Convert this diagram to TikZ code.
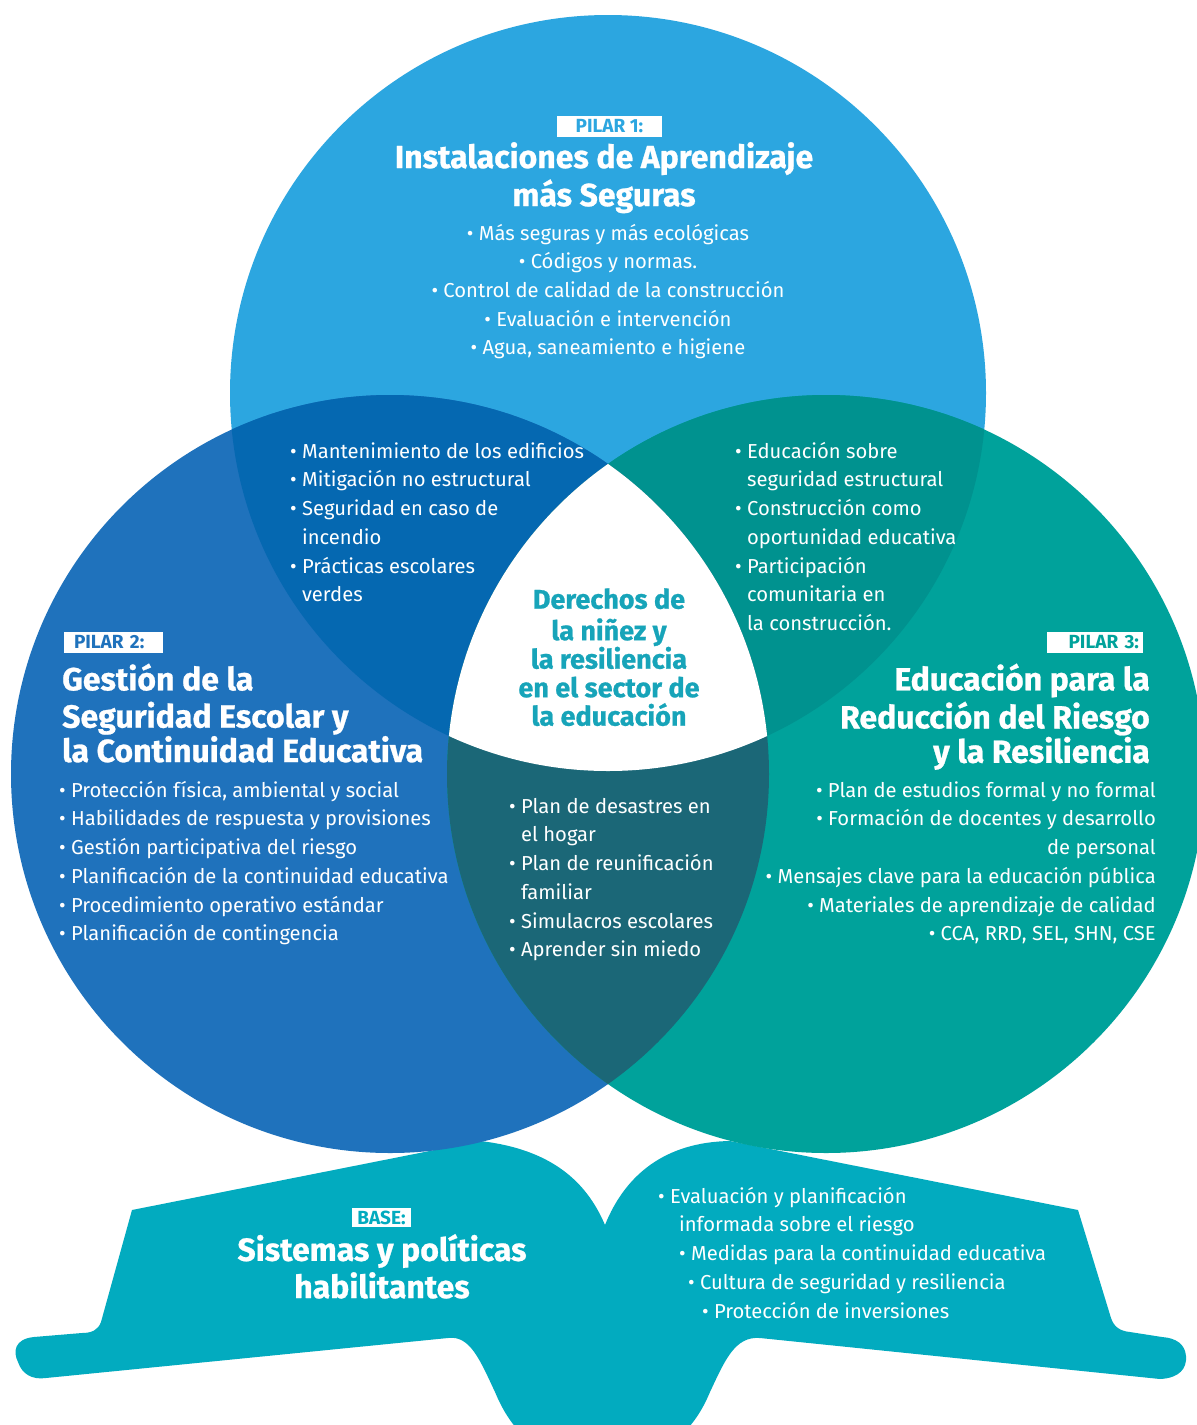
\documentclass[tikz,border=0pt]{standalone}
\usepackage{fontspec}
\setmainfont{Fira Sans}
\newfontfamily\heavyfam{Fira Sans}[BoldFeatures={FakeBold=0.8}]
\definecolor{ctop}{HTML}{2CA6E0}
\definecolor{cleft}{HTML}{1F72BC}
\definecolor{cright}{HTML}{00A29B}
\definecolor{ctl}{HTML}{0568B1}
\definecolor{ctr}{HTML}{00928F}
\definecolor{clr}{HTML}{1B6777}
\definecolor{cbase}{HTML}{02ABBF}
\definecolor{cmid}{HTML}{17A4B9}
\newcommand\bu{\textbullet\ }
\newcommand\hi{\phantom{\textbullet\ }}
\begin{document}
\begin{tikzpicture}[x=1pt,y=-1pt,
  body/.style={inner sep=0pt, text=white, font=\fontsize{20.2}{28.7}\selectfont},
  ttl/.style={inner sep=0pt, text=white, font=\fontsize{32}{34.4}\selectfont\heavyfam\bfseries},
  lab/.style={fill=white, inner ysep=0pt, minimum height=21pt, font=\fontsize{19}{19}\selectfont\bfseries},
  midtxt/.style={inner sep=0pt, text=cmid, font=\fontsize{27}{28.5}\selectfont\heavyfam\bfseries}
  ]
\useasboundingbox (0,0) rectangle (1197,1425);
\clip (0,0) rectangle (1197,1425);
\fill[white] (0,0) rectangle (1197,1425);
\def\pT{(608,393) circle[radius=378pt]}
\def\pL{(390,774) circle[radius=379pt]}
\def\pR{(826,774) circle[radius=379pt]}
% base (open book)
\fill[cbase] (605,1225) .. controls (590,1190) and (560,1150) .. (480,1141)
  -- (132,1210) -- (101,1322) .. controls (98,1330) and (92,1333) .. (82,1333)
  -- (34,1337) .. controls (14,1339) and (13,1352) .. (18,1362)
  .. controls (22,1374) and (32,1380) .. (46,1378)
  -- (448,1338) .. controls (470,1335) and (480,1360) .. (495,1392)
  .. controls (515,1440) and (545,1460) .. (601,1460)
  .. controls (657,1460) and (690,1440) .. (710,1392)
  .. controls (725,1360) and (735,1336) .. (760,1338)
  -- (1160,1379) .. controls (1180,1378) and (1187,1368) .. (1186,1356)
  .. controls (1185,1344) and (1176,1338) .. (1162,1337)
  -- (1130,1332) .. controls (1120,1331) and (1114,1327) .. (1111,1318)
  -- (1078,1210) -- (730,1141) .. controls (665,1142) and (625,1175) .. (605,1225) -- cycle;
% circles
\fill[ctop] \pT;
\fill[cleft] \pL;
\fill[cright] \pR;
\begin{scope}\clip \pT; \fill[ctl] \pL; \end{scope}
\begin{scope}\clip \pT; \fill[ctr] \pR; \end{scope}
\begin{scope}\clip \pL; \fill[clr] \pR; \end{scope}
\begin{scope}\clip \pT; \clip \pL; \fill[white] \pR; \end{scope}
% Pillar 1
\node[lab, text=ctop, minimum width=105pt] (p1lab) at (609.5,126.5) {PILAR 1:};
\node[ttl, anchor=north, align=center] (p1ttl) at (604,141.9)
  {\strut Instalaciones de Aprendizaje\\más Seguras};
\node[body, anchor=north, align=center] (p1list) at (608,219.9)
  {\strut\bu Más seguras y más ecológicas\\\bu Códigos y normas.\\\bu Control de calidad de la construcción\\\bu Evaluación e intervención\\\bu Agua, saneamiento e higiene};
% overlaps
\node[body, anchor=north west, align=left] (tllist) at (290,437.9)
  {\strut\bu Mantenimiento de los edificios\\\bu Mitigación no estructural\\\bu Seguridad en caso de\\\hi incendio\\\bu Prácticas escolares\\\hi verdes};
\node[body, anchor=north west, align=left] (trlist) at (735,437.9)
  {\strut\bu Educación sobre\\\hi seguridad estructural\\\bu Construcción como\\\hi oportunidad educativa\\\bu Participación\\\hi comunitaria en\\\hi la construcción.};
\node[body, anchor=north west, align=left] (lrlist) at (509,792.9)
  {\strut\bu Plan de desastres en\\\hi el hogar\\\bu Plan de reunificación\\\hi familiar\\\bu Simulacros escolares\\\bu Aprender sin miedo};
\node[midtxt, anchor=north, align=center] (mid) at (609,588)
  {\strut Derechos de\\la niñez y\\la resiliencia\\en el sector de\\la educación};
% Pillar 2
\node[lab, text=cleft, text width=79pt, inner xsep=10pt, align=left] (p2lab) at (113.5,642.5) {PILAR 2:};
\node[ttl, anchor=north west, align=left] (p2ttl) at (62,663.4)
  {\strut Gestión de la\\Seguridad Escolar y\\la Continuidad Educativa};
\node[body, anchor=north west, align=left] (p2list) at (59,776.9)
  {\strut\bu Protección física, ambiental y social\\\bu Habilidades de respuesta y provisiones\\\bu Gestión participativa del riesgo\\\bu Planificación de la continuidad educativa\\\bu Procedimiento operativo estándar\\\bu Planificación de contingencia};
% Pillar 3
\node[lab, text=cright, text width=88pt, inner xsep=4pt, align=right] (p3lab) at (1095,642.5) {PILAR 3:};
\node[ttl, anchor=north east, align=right] (p3ttl) at (1150,663.4)
  {\strut Educación para la\\Reducción del Riesgo\hspace*{7pt}\\y la Resiliencia};
\node[body, anchor=north east, align=right] (p3list) at (1156,776.9)
  {\strut\bu Plan de estudios formal y no formal\\\bu Formación de docentes y desarrollo\hspace*{4pt}\\de personal\\\bu Mensajes clave para la educación pública\\\bu Materiales de aprendizaje de calidad\\\bu CCA, RRD, SEL, SHN, CSE};
% Base
\node[lab, text=cbase, minimum width=59pt, minimum height=19pt, inner xsep=3pt] (blab) at (381.5,1217.5) {BASE:};
\node[ttl, anchor=north, align=center] (bttl) at (382,1233.9)
  {\strut Sistemas y políticas\\habilitantes};
\node[body, anchor=north west, align=left] (blist) at (658,1182.9)
  {\strut\bu Evaluación y planificación\\\hspace*{21pt}informada sobre el riesgo\\\hspace*{21pt}\bu Medidas para la continuidad educativa\\\hspace*{30pt}\bu Cultura de seguridad y resiliencia\\\hspace*{44pt}\bu Protección de inversiones};
\end{tikzpicture}
\end{document}
